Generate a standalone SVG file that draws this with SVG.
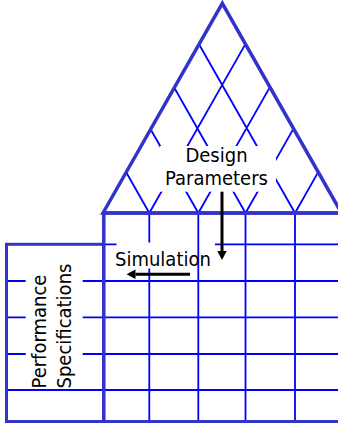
<svg xmlns="http://www.w3.org/2000/svg" width="338" height="425" viewBox="0 0 338 425">
<style>
.thin{stroke:#0000FF;stroke-width:1.8;fill:none}
.thick{stroke:#3333CC;stroke-width:3.5;fill:none}
.mask{fill:#FFFFFF;stroke:none}
.lbl{font-family:"DejaVu Sans Condensed","DejaVu Sans",Verdana,sans-serif;font-stretch:condensed;font-size:20px;fill:#000000}
.arr{stroke:#000000;stroke-width:3;fill:none}
</style>
<defs>
<marker id="ah" markerUnits="userSpaceOnUse" markerWidth="10" markerHeight="10" viewBox="0 0 10 10" refX="0" refY="5" orient="auto">
<path d="M0,0.3 L9,5 L0,9.7 Z" fill="#000000"/>
</marker>
</defs>
<g id="roof-lattice">
<path class="thin" d="M149.3,213 L245.4,44.1 M149.3,213 L126.2,172.3 M198.3,213 L269.9,87.1 M198.3,213 L150.6,129.2 M245.5,213 L293.5,128.6 M245.5,213 L174.3,87.8 M295,213 L318.2,172.1 M295,213 L199,44.3"/>
</g>
<g id="matrix-grid">
<path class="thin" d="M149.3,213 V421.5 M245.5,213 V421.5 M295,213 V421.5 M103,244.3 H338 M6.5,281 H338 M6.5,317.3 H338 M6.5,354 H338 M6.5,390 H338"/>
</g>
<g id="label-masks">
<rect class="mask" x="160" y="146" width="116" height="45.7"/>
<rect class="mask" x="116.5" y="242.5" width="98.5" height="26"/>
<rect class="mask" x="25.7" y="256" width="57" height="132.5"/>
</g>
<g id="col-3">
<path class="thin" d="M198.3,213 V421.5"/>
</g>
<g id="roof">
<polygon class="thick" points="103,213 222.3,3.3 341.5,213"/>
</g>
<g id="matrix-frame">
<path class="thick" d="M103,213 H338 M103.8,213 V421.5"/>
</g>
<g id="left-box">
<rect x="6.5" y="244.3" width="97" height="177.2" style="stroke:#3333CC;stroke-width:3;fill:none"/>
<path d="M103,421.5 H338" style="stroke:#3333CC;stroke-width:3;fill:none"/>
</g>
<g id="design-parameters">
<text class="lbl" x="216.5" y="161.5" text-anchor="middle">Design</text>
<text class="lbl" x="216.5" y="184.8" text-anchor="middle">Parameters</text>
</g>
<g id="simulation">
<text class="lbl" x="115" y="266.3">Simulation</text>
</g>
<g id="performance-specifications">
<text class="lbl" transform="translate(45.8,388.5) rotate(-90)">Performance</text>
<text class="lbl" transform="translate(70.8,388.5) rotate(-90)">Specifications</text>
</g>
<g id="connectors">
<path class="arr" d="M222,191.7 V251" marker-end="url(#ah)"/>
<path class="arr" d="M190,274.3 H135.5" marker-end="url(#ah)"/>
</g>
</svg>
